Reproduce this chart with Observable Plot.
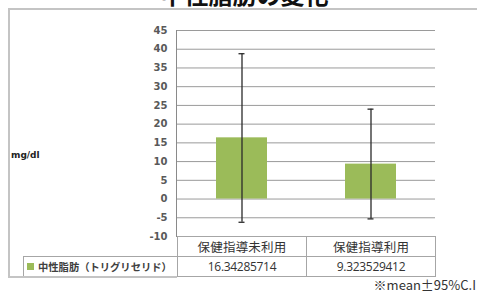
<!DOCTYPE html>
<html>
<head>
<meta charset="utf-8">
<script src="https://cdn.jsdelivr.net/npm/d3@7"></script>
<script src="https://cdn.jsdelivr.net/npm/@observablehq/plot@0.6"></script>
<style>
  html, body { margin: 0; padding: 0; background: #fff; }
  #wrap { position: relative; width: 477px; height: 294px; overflow: hidden; background: #fff;
          font-family: "Noto Sans CJK JP", "Noto Sans", sans-serif; }
  .abs { position: absolute; box-sizing: border-box; }
  #title { left: 6px; top: -18px; width: 477px; text-align: center; font-size: 24px; line-height: 24px;
           font-weight: 700; color: #111; }
  .line { background: #c4c4c4; }
  #chart { position: absolute; left: 0; top: 0; }
  #chart svg { overflow: visible; }
  .cell { border: 1px solid #a6a6a6; display: flex; align-items: center; justify-content: center;
          font-size: 12px; color: #333; white-space: nowrap; overflow: hidden; }
  #ylabel { left: 11px; top: 150px; font-family: "DejaVu Sans", sans-serif; font-weight: 700; font-size: 9px; color: #222; }
  #note { right: 1px; top: 277px; font-size: 13px; line-height: 15px; color: #333; white-space: nowrap; }
</style>
</head>
<body>
<div id="wrap"></div>
<script>
// ---- data ----
const categories = ["保健指導未利用", "保健指導利用"];
const meanValues = [16.34285714, 9.323529412];
const meanLabels = ["16.34285714", "9.323529412"];
const ciLower = [-6.2, -5.3];
const ciUpper = [38.8, 24.0];
const yTicks = [-10, -5, 0, 5, 10, 15, 20, 25, 30, 35, 40, 45];
const seriesName = "中性脂肪（トリグリセリド）";
const titleText = "中性脂肪の変化";
const yUnit = "mg/dl";
const noteText = "※mean±95%C.I";

const rows = categories.map((c, i) => ({cat: c, mean: meanValues[i], lo: ciLower[i], hi: ciUpper[i]}));

const wrap = document.getElementById("wrap");
function addDiv(cls, style, text, id) {
  const d = document.createElement("div");
  d.className = "abs " + cls;
  if (id) d.id = id;
  Object.assign(d.style, style);
  if (text != null) d.textContent = text;
  wrap.appendChild(d);
  return d;
}

const chart = Plot.plot({
  width: 477,
  height: 294,
  marginLeft: 176,
  marginRight: 42,
  marginTop: 30,
  marginBottom: 58,
  style: {background: "transparent", fontFamily: "DejaVu Sans, sans-serif"},
  x: {domain: categories, padding: 0, axis: null},
  y: {domain: [-10, 45], ticks: yTicks},
  marks: [
    Plot.gridY(yTicks, {stroke: "#9a9a9a", strokeOpacity: 1, strokeWidth: 1}),
    Plot.frame({anchor: "left", stroke: "#8a8a8a", strokeWidth: 1}),
    Plot.barY(rows, {x: "cat", y: "mean", fill: "#9bbb59", insetLeft: 39, insetRight: 39}),
    Plot.ruleX(rows, {x: "cat", y1: "lo", y2: "hi", stroke: "#2a2a2a", strokeWidth: 1.3}),
    Plot.tickY(rows, {x: "cat", y: "hi", stroke: "#2a2a2a", strokeWidth: 1.3, insetLeft: 61.5, insetRight: 61.5}),
    Plot.tickY(rows, {x: "cat", y: "lo", stroke: "#2a2a2a", strokeWidth: 1.3, insetLeft: 61.5, insetRight: 61.5}),
    Plot.axisY(yTicks, {tickSize: 0, tickPadding: 9, label: null, tickFormat: d => String(d),
      fontSize: 10, fontWeight: "bold", fill: "#595959"})
  ]
});

// frame lines
addDiv("line", {left: "8px", top: "8px", width: "480px", height: "2px"});
addDiv("line", {left: "8px", top: "8px", width: "1.5px", height: "269px"});

// title (cut off at top, as in the reference)
addDiv("", {}, titleText, "title");

// chart svg
const holder = document.createElement("div");
holder.id = "chart";
holder.appendChild(chart);
wrap.appendChild(holder);

// data table positioned via the chart's own scales
const xs = chart.scale("x");
const ys = chart.scale("y");
const tableTop = ys.apply(-10);
const rowH = 20;
const bw = xs.bandwidth;
categories.forEach((c, i) => {
  const left = xs.apply(c);
  addDiv("cell", {left: left + "px", top: tableTop + "px", width: (bw + 1) + "px", height: (rowH + 1) + "px",
    fontSize: "12.5px", letterSpacing: "0.2px"}, c);
  addDiv("cell", {left: left + "px", top: (tableTop + rowH) + "px", width: (bw + 1) + "px", height: (rowH + 1) + "px",
    fontFamily: "'Open Sans', sans-serif", fontSize: "12px", letterSpacing: "-0.3px"}, meanLabels[i]);
});
const x0 = xs.apply(categories[0]);
const leg = addDiv("cell", {left: "23px", top: (tableTop + rowH) + "px", width: (x0 - 23 + 1) + "px", height: (rowH + 1) + "px",
  justifyContent: "flex-start", paddingLeft: "3px", fontSize: "10.3px", fontWeight: "700", color: "#404040"});
const sw = document.createElement("span");
Object.assign(sw.style, {display: "inline-block", flex: "0 0 7px", width: "7px", height: "7px", background: "#9bbb59", marginRight: "4px"});
leg.appendChild(sw);
const lt = document.createElement("span");
lt.textContent = seriesName;
leg.appendChild(lt);

// bottom frame line (meets table bottom)
addDiv("line", {left: "8px", top: (tableTop + 2 * rowH) + "px", width: (x0 - 8) + "px", height: "1.5px"});

// y unit label and note
addDiv("", {}, yUnit, "ylabel");
addDiv("", {}, noteText, "note");
</script>
</body>
</html>
